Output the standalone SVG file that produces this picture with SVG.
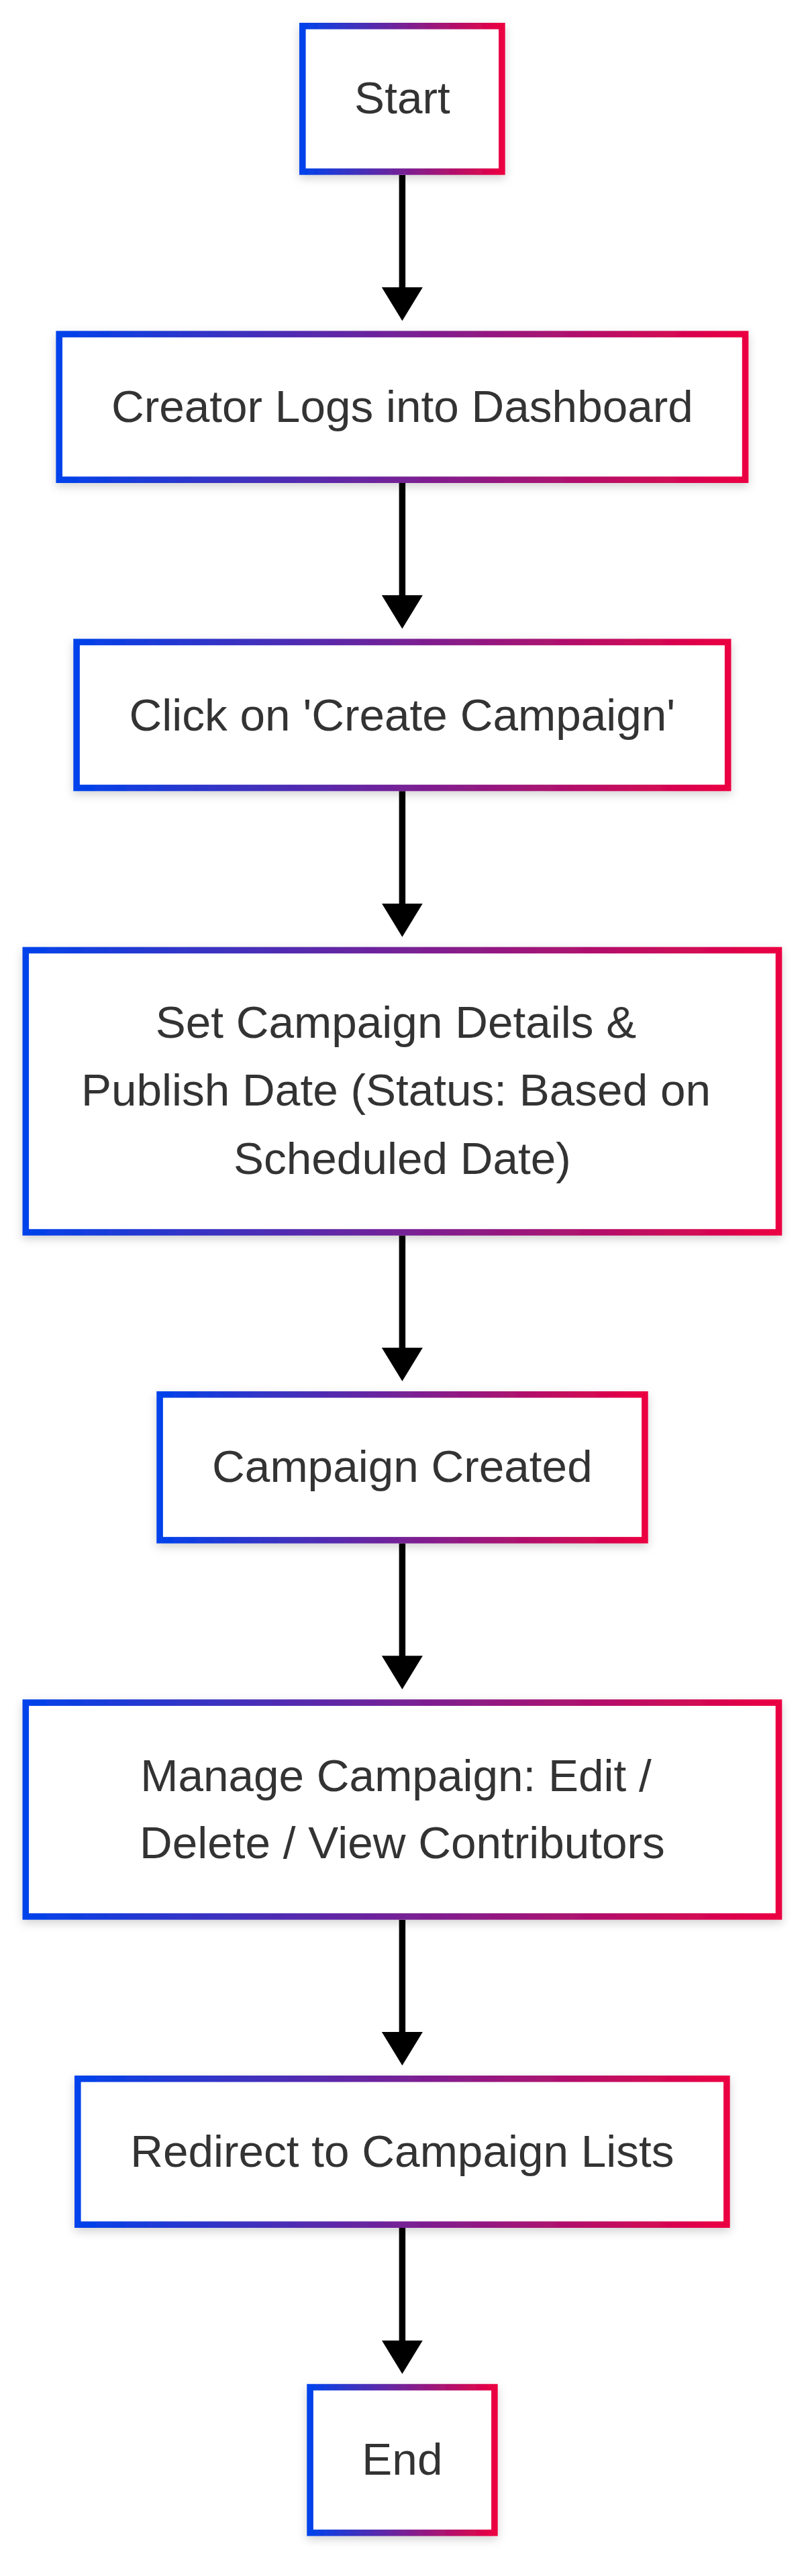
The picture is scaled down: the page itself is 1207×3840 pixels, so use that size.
<svg xmlns="http://www.w3.org/2000/svg" width="1207" height="3840" viewBox="0 0 1207 3840">
  <defs>
    <linearGradient id="grad" x1="0" y1="0" x2="1" y2="0">
      <stop offset="0" stop-color="#0042EB"/>
      <stop offset="1" stop-color="#EB0042"/>
    </linearGradient>
    <filter id="shadow" x="-10%" y="-20%" width="120%" height="150%">
      <feDropShadow dx="0" dy="5" stdDeviation="7" flood-color="#000" flood-opacity="0.18"/>
    </filter>
    <marker id="arrow" viewBox="0 0 50 61" refX="2" refY="30.5" markerWidth="50" markerHeight="61" markerUnits="userSpaceOnUse" orient="auto">
      <path d="M0,0 L50,30.5 L0,61 Z" fill="#000"/>
    </marker>
  </defs>
  <style>
    .box { fill: #ffffff; stroke: url(#grad); stroke-width: 9.6; filter: url(#shadow); }
    .lbl { font-family: "Liberation Sans", Arial, sans-serif; font-size: 67.5px; fill: #333333; text-anchor: middle; }
    .edge { stroke: #000; stroke-width: 9.5; fill: none; marker-end: url(#arrow); }
  </style>
  <rect width="1207" height="3840" fill="#ffffff"/>

  <g id="connectors">
    <path class="edge" d="M599.4,260.7 L599.4,430.3"/>
    <path class="edge" d="M599.4,720 L599.4,889.3"/>
    <path class="edge" d="M599.4,1179.3 L599.4,1348.7"/>
    <path class="edge" d="M599.4,1841.8 L599.4,2011"/>
    <path class="edge" d="M599.4,2300.7 L599.4,2470.3"/>
    <path class="edge" d="M599.4,2861.7 L599.4,3031"/>
    <path class="edge" d="M599.4,3321 L599.4,3490.8"/>
  </g>

  <g id="node-start">
    <rect class="box" x="450.8" y="38.8" width="297.1" height="217.1"/>
    <text class="lbl" x="599.4" y="169.3">Start</text>
  </g>
  <g id="node-login">
    <rect class="box" x="88.2" y="498.1" width="1022.4" height="217.1"/>
    <text class="lbl" x="599.4" y="629.3">Creator Logs into Dashboard</text>
  </g>
  <g id="node-click">
    <rect class="box" x="114.1" y="957.1" width="970.6" height="217.4"/>
    <text class="lbl" x="599.4" y="1089.3">Click on 'Create Campaign'</text>
  </g>
  <g id="node-details">
    <rect class="box" x="38.3" y="1416.5" width="1122.2" height="420.5"/>
    <text class="lbl" x="590" y="1546.7">Set Campaign Details &amp;</text>
    <text class="lbl" x="590" y="1648.3">Publish Date (Status: Based on</text>
    <text class="lbl" x="599.4" y="1750">Scheduled Date)</text>
  </g>
  <g id="node-created">
    <rect class="box" x="238.1" y="2078.8" width="722.8" height="217.1"/>
    <text class="lbl" x="599.4" y="2209.3">Campaign Created</text>
  </g>
  <g id="node-manage">
    <rect class="box" x="38.3" y="2538.1" width="1122.2" height="318.8"/>
    <text class="lbl" x="590" y="2670">Manage Campaign: Edit /</text>
    <text class="lbl" x="599.4" y="2770">Delete / View Contributors</text>
  </g>
  <g id="node-redirect">
    <rect class="box" x="115.8" y="3098.8" width="967.1" height="217.4"/>
    <text class="lbl" x="599.4" y="3230">Redirect to Campaign Lists</text>
  </g>
  <g id="node-end">
    <rect class="box" x="462.1" y="3558.6" width="274.8" height="217"/>
    <text class="lbl" x="599.4" y="3689">End</text>
  </g>
</svg>
